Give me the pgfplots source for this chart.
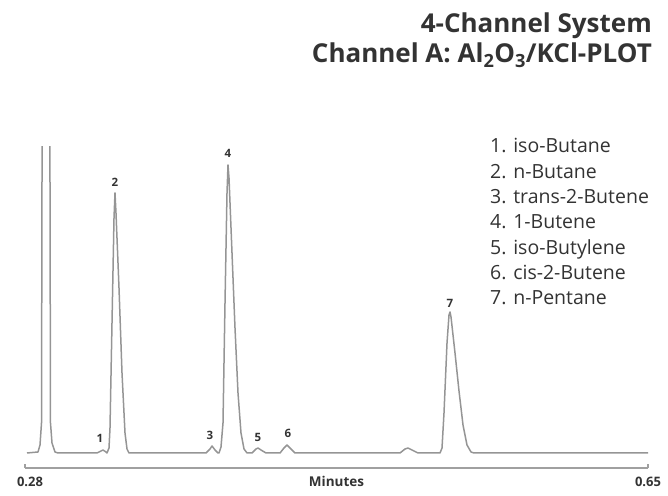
\documentclass[border=0pt]{standalone}
\usepackage{fontspec}
\setmainfont{Open Sans}
\usepackage{pgfplots}
\pgfplotsset{compat=1.18}
\definecolor{txt}{HTML}{333333}
\definecolor{trace}{HTML}{959595}
\definecolor{axc}{HTML}{A0A0A0}
\tikzset{lbl/.style={font=\fontsize{11.5bp}{12bp}\selectfont\bfseries, text=txt, inner sep=0pt}}
\begin{document}
\begin{tikzpicture}[x=1bp,y=1bp]
\useasboundingbox (0,0) rectangle (668,496);
\begin{axis}[
  at={(25bp,28bp)}, anchor=south west,
  scale only axis, width=623bp, height=321bp,
  xmin=0.28, xmax=0.65, ymin=-15, ymax=306,
  axis x line*=bottom, axis y line=none,
  ytick=\empty,
  xtick={0.28,0.65}, xticklabels={\hspace*{10bp}0.28,0.65},
  tick align=inside, major tick length=4bp,
  x axis line style={draw=axc, line width=1.2bp, -},
  every tick/.style={draw=axc, line width=1.2bp},
  xticklabel style={font=\fontsize{13bp}{15bp}\selectfont\bfseries, text=txt, anchor=base, yshift=-19bp},
  xlabel={Minutes},
  xlabel style={at={(axis description cs:0.5,0)}, anchor=base, yshift=-19bp, font=\fontsize{13.5bp}{15bp}\selectfont\bfseries, text=txt},
  clip mode=individual,
]
\addplot[trace, line width=1.5bp, line join=round] coordinates {
(0.28119,0) (0.28772,1) (0.28891,8) (0.28980,30) (0.29099,1000) (0.29247,1100) (0.29396,1000) (0.29514,30) (0.29604,10) (0.29782,1) (0.29960,0)
(0.32276,0) (0.32514,2) (0.32632,3) (0.32811,1) (0.32870,0)
(0.32989,5) (0.33048,25) (0.33167,130) (0.33286,235) (0.33345,260) (0.33404,240) (0.33583,165) (0.33761,80) (0.33939,20) (0.34058,4) (0.34177,0)
(0.38750,0) (0.38987,4) (0.39106,7) (0.39284,3) (0.39462,0)
(0.39522,0) (0.39640,6) (0.39759,30) (0.39878,150) (0.39997,260) (0.40056,288) (0.40116,275) (0.40294,200) (0.40472,125) (0.40650,60) (0.40828,20) (0.41007,4) (0.41185,0)
(0.41482,0) (0.41719,4) (0.41838,5) (0.42016,3) (0.42313,0)
(0.43145,0) (0.43382,5) (0.43560,8) (0.43738,5) (0.44035,0)
(0.50271,0) (0.50568,4) (0.50746,5) (0.50984,3) (0.51340,0)
(0.52647,0) (0.52766,5) (0.52884,40) (0.53063,110) (0.53181,138) (0.53241,141) (0.53300,136) (0.53538,100) (0.53775,62) (0.54013,28) (0.54250,8) (0.54488,1) (0.54666,0)
(0.65000,0)
};
\node[lbl] at (axis cs:0.32454,15) {1};
\node[lbl] at (axis cs:0.33345,271) {2};
\node[lbl] at (axis cs:0.38987,18) {3};
\node[lbl] at (axis cs:0.40056,300) {4};
\node[lbl] at (axis cs:0.41838,16) {5};
\node[lbl] at (axis cs:0.43619,20) {6};
\node[lbl] at (axis cs:0.53241,150) {7};
\end{axis}
\node[anchor=base east, inner sep=0pt, font=\fontsize{26bp}{28bp}\selectfont\bfseries, text=txt] at (652,463) {4-Channel System};
\node[anchor=base east, inner sep=0pt, font=\fontsize{26bp}{28bp}\selectfont\bfseries, text=txt] at (652,433) {Channel A: Al\textsubscript{2}O\textsubscript{3}/KCl-PLOT};
\begin{scope}[every node/.style={anchor=base west, inner sep=0pt, font=\fontsize{19.5bp}{24bp}\selectfont, text=txt}]
\node at (490,343.0) {1. iso-Butane};
\node at (490,317.7) {2. n-Butane};
\node at (490,292.3) {3. trans-2-Butene};
\node at (490,267.0) {4. 1-Butene};
\node at (490,241.7) {5. iso-Butylene};
\node at (490,216.3) {6. cis-2-Butene};
\node at (490,191.0) {7. n-Pentane};
\end{scope}
\end{tikzpicture}
\end{document}
